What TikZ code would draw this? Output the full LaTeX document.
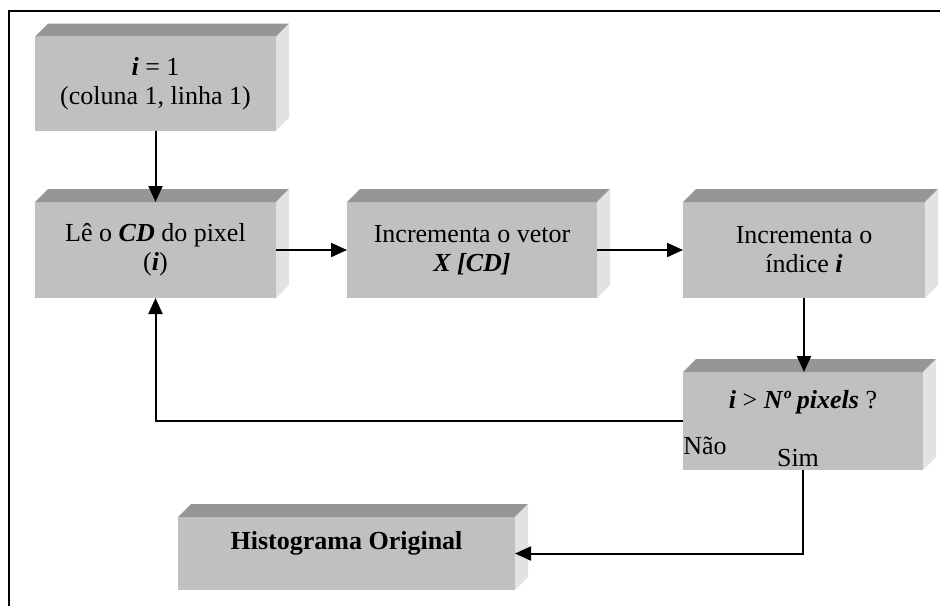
\documentclass[tikz,border=0pt]{standalone}
\usepackage{fontspec}
\setmainfont{Liberation Serif}
\usetikzlibrary{arrows.meta,positioning,calc}

\definecolor{frontgray}{HTML}{C0C0C0}
\definecolor{topgray}{HTML}{969696}
\definecolor{sidegray}{HTML}{E2E2E2}

\newcommand{\bi}[1]{\textbf{\textit{#1}}}

\begin{document}
\begin{tikzpicture}[x=0.5pt,y=-0.5pt,
    blk/.style={fill=frontgray, inner sep=2pt, outer sep=0pt, align=center, font=\fontsize{13}{14.5}\selectfont},
    lbl/.style={inner sep=0pt, font=\fontsize{13}{14.5}\selectfont},
    arr/.style={-{Triangle[length=8pt,width=7pt]}, line width=1pt}
]
\useasboundingbox (0,0) rectangle (940,606);

% frame
\draw[line width=1.2pt] (940,11) -- (9,11) -- (9,606);

% blocks
\node[blk, minimum width=120.5pt, minimum height=47pt] (start) at (155.5,83.5) {\bi{i} = 1\\(coluna 1, linha 1)};
\node[blk, minimum width=120.5pt, minimum height=48pt] (read) at (155.5,250) {Lê o \bi{CD} do pixel\\(\bi{i})};
\node[blk, minimum width=125pt, minimum height=48pt] (vec) at (472,250) {Incrementa o vetor\\\bi{X [CD]}};
\node[blk, minimum width=121pt, minimum height=48pt] (idx) at (804,250) {Incrementa o\\índice \bi{i}};
\node[blk, minimum width=120pt, minimum height=49pt, text depth=22pt] (test) at (803,421) {\bi{i} > \bi{Nº pixels} ?};
\node[blk, minimum width=168.5pt, minimum height=36.5pt, text depth=13pt] (hist) at (346.5,553.5) {\textbf{Histograma Original}};

% 3D faces
\foreach \n in {start,read,vec,idx,test,hist} {
  \fill[topgray] (\n.north west) -- ++(13,-13) -- ($(\n.north east)+(13,-13)$) -- (\n.north east) -- cycle;
  \fill[sidegray] (\n.north east) -- ++(13,-13) -- ($(\n.south east)+(13,-13)$) -- (\n.south east) -- cycle;
}

% labels
\node[lbl, anchor=west] (nao) at (683,446) {Não};
\node[lbl] (sim) at (798,458) {Sim};

% connectors
\draw[arr] (start) -- (read);
\draw[arr] (read) -- (vec);
\draw[arr] (vec) -- (idx);
\draw[arr] (idx.south) -- (idx.south |- test.north);
\draw[arr] (test.west) -| (read.south);
\draw[arr] (test.south) |- (hist.east);
\end{tikzpicture}
\end{document}
